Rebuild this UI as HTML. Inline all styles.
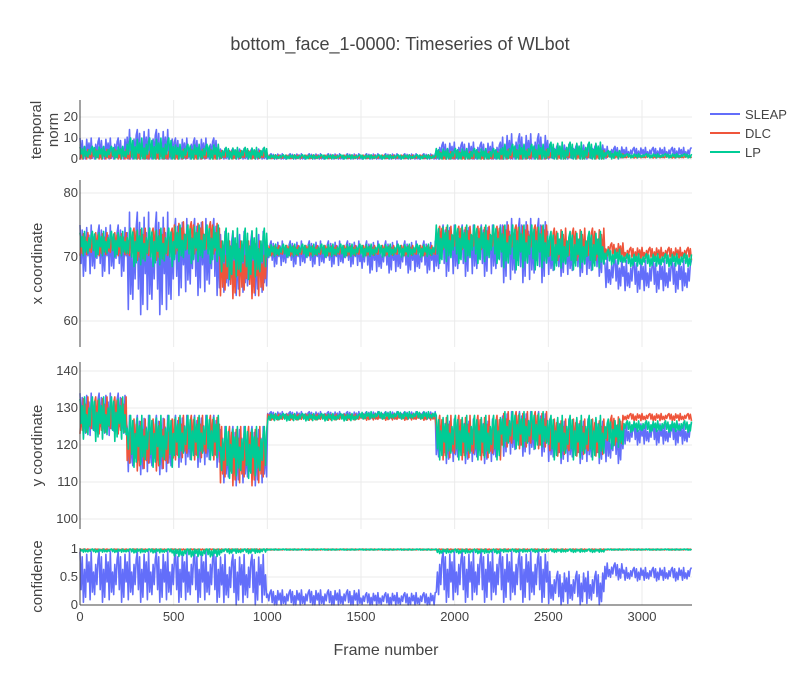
<!DOCTYPE html>
<html><head><meta charset="utf-8"><style>
body{margin:0;background:#fff;font-family:"Liberation Sans",sans-serif}
svg text{font-family:"Liberation Sans",sans-serif;fill:#444}
</style></head><body>
<svg id="chart" width="800" height="687" xmlns="http://www.w3.org/2000/svg">
<text x="400" y="50" text-anchor="middle" font-size="18">bottom_face_1-0000: Timeseries of WLbot</text>
<g id="grid"></g><g id="marks"></g><g id="axes"></g>
<text x="386" y="655" text-anchor="middle" font-size="16">Frame number</text>
<g>
<g><line x1="710" y1="114" x2="740" y2="114" stroke="#636efa" stroke-width="2"/><text x="745" y="119" font-size="13">SLEAP</text></g>
<g><line x1="710" y1="133" x2="740" y2="133" stroke="#EF553B" stroke-width="2"/><text x="745" y="138" font-size="13">DLC</text></g>
<g><line x1="710" y1="152" x2="740" y2="152" stroke="#00cc96" stroke-width="2"/><text x="745" y="157" font-size="13">LP</text></g>
</g>
</svg>
<script>
// segment start frames (each value holds until the next start)
const binFrames=[0,250,500,750,1000,1250,1500,1900,2000,2250,2500,2800,2900,3270];
const xTicks=[0,500,1000,1500,2000,2500,3000];
const seriesNames=['SLEAP','DLC','LP'];
// temporal norm
const normSleapC=[4,5,4,2,1,1,1,3,3,4,3,3,3,3];
const normSleapA=[6,9,6,3,1.5,1.5,1.5,5,5,8,4,3,2.5,2.5];
const normDlcC=[2,2,2,2,1,1,1,1.5,1.5,2,2,1.5,1,1];
const normDlcA=[2.5,3,2.5,2,0.8,0.8,0.8,2,2,2.5,2,1,0.5,0.5];
const normLpC=[3,4,3,2.5,1,1,1,2,2,3,3,2,1.5,1.5];
const normLpA=[3,6,4,3,1,1,1,3,3,4,5,2,1,1];
// x coordinate
const xSleapC=[71,69,70,69,70.5,70.5,70,71,71,71,70,67.5,67,67];
const xSleapA=[4,8,6,5,2,2,2.5,4,4,5,3,2.5,2.5,2.5];
const xDlcC=[72,72,73,68,71,71,71,73,73,73,72,71,70.5,70.5];
const xDlcA=[1.8,2.5,2.5,4.5,0.8,0.8,0.8,1.8,1.8,2,2.5,1.2,1,1];
const xLpC=[72,71.5,72,70.5,71,71,71,72,72,71.5,71,70,69.5,69.5];
const xLpA=[2,3,3,4,1,1,1,3,3,3.5,3,1.2,1,1];
// y coordinate
const ySleapC=[128,120,121,117,128,128,128,121,121,123,121,120,123,123];
const ySleapA=[6,8,7,8,1,1,1,6,6,6,6,5,3,3];
const yDlcC=[128,120,122,117,127.5,127.5,127.5,122,122,124,122,124,127.5,127.5];
const yDlcA=[5,7,6,8,0.8,0.8,0.8,6,6,5,5,4,1,1];
const yLpC=[127,121,122,118,127.5,127.5,128,122,122,124,122,123,125,125];
const yLpA=[6,7,6,7,1,1,1,6,6,5,6,4,1.5,1.5];
// confidence
const cSleapC=[0.5,0.5,0.5,0.45,0.12,0.12,0.1,0.5,0.5,0.5,0.3,0.6,0.55,0.55];
const cSleapA=[0.45,0.45,0.45,0.45,0.15,0.15,0.12,0.45,0.45,0.45,0.3,0.15,0.12,0.12];
const cDlcC=[0.99,0.99,0.99,0.99,0.99,0.99,0.99,0.99,0.99,0.99,0.99,0.99,0.99,0.99];
const cDlcA=[0.01,0.01,0.01,0.01,0.01,0.01,0.01,0.01,0.01,0.01,0.01,0.01,0.01,0.01];
const cLpC=[0.97,0.97,0.94,0.97,0.99,0.99,0.99,0.96,0.96,0.97,0.97,0.99,0.99,0.99];
const cLpA=[0.03,0.04,0.08,0.05,0.01,0.01,0.01,0.04,0.04,0.03,0.03,0.01,0.01,0.01];

const NS='http://www.w3.org/2000/svg';
const X0=80,X1=692,FMAX=3267;
const xs=f=>X0+f*(642-80)/3000;
const colors=['#636efa','#EF553B','#00cc96'];
const panels=[
 {name:'temporal-norm',top:100,bot:160,v0:0,p0:159,v1:20,p1:117,ticks:[0,10,20],title:['temporal','norm'],
  s:[[normSleapC,normSleapA],[normDlcC,normDlcA],[normLpC,normLpA]],min:0,max:28},
 {name:'x-coordinate',top:180,bot:347,v0:60,p0:321,v1:80,p1:193,ticks:[60,70,80],title:['x coordinate'],
  s:[[xSleapC,xSleapA],[xDlcC,xDlcA],[xLpC,xLpA]],min:56,max:82},
 {name:'y-coordinate',top:362,bot:529,v0:100,p0:519,v1:140,p1:371,ticks:[100,110,120,130,140],title:['y coordinate'],
  s:[[ySleapC,ySleapA],[yDlcC,yDlcA],[yLpC,yLpA]],min:98,max:142},
 {name:'confidence',top:548,bot:605,v0:0,p0:605,v1:1,p1:549,ticks:[0,0.5,1],title:['confidence'],
  s:[[cSleapC,cSleapA],[cDlcC,cDlcA],[cLpC,cLpA]],min:0,max:1}
];
const grid=document.getElementById('grid'),marks=document.getElementById('marks'),axes=document.getElementById('axes');
function el(t,a,p){const e=document.createElementNS(NS,t);for(const k in a)e.setAttribute(k,a[k]);p.appendChild(e);return e;}
const pat=[1,-0.5,0.8,-1,0.3,-0.8,0.9,-0.2,0.6,-0.9,1,-0.6,0.2,-0.7,0.5,-0.3,0.7];
function seg(arr,f){let i=0;while(i<binFrames.length-1&&f>=binFrames[i+1])i++;return arr[i];}
panels.forEach(p=>{
 const ys=v=>p.p0+(v-p.v0)*(p.p1-p.p0)/(p.v1-p.v0);
 xTicks.forEach(t=>{const g=el('line',{x1:xs(t),x2:xs(t),y1:p.top,y2:p.bot,stroke:'#ebebeb'},grid);
  
  });
 p.ticks.forEach(t=>{const g=el('line',{x1:X0,x2:X1,y1:ys(t),y2:ys(t),stroke:'#ebebeb'},grid);
  
  
  const tx=el('text',{x:X0-2,y:ys(t)+4,'text-anchor':'end','font-size':13},axes);tx.textContent=t;
  
  });
 const ax=el('line',{x1:X0,x2:X0,y1:p.top,y2:p.bot,stroke:'#444'},axes);
 
 
 const cy=(p.top+p.bot)/2;
 const tt=el('text',{transform:`translate(${p.title.length>1?43:42},${cy}) rotate(-90)`,'text-anchor':'middle','font-size':15},axes);
 
 
 p.title.forEach((l,i)=>{const ts=el('tspan',{x:0,dy:i?17:(p.title.length>1?-2:0)},tt);ts.textContent=l;});
 p.s.forEach((s,si)=>{
  let pts=[];let k=si*3;
  for(let f=0;f<=FMAX;f+=6){const c=seg(s[0],f),a=seg(s[1],f);
   let v=c+a*pat[k%pat.length];k++;v=Math.max(p.min,Math.min(p.max,v));
   pts.push(xs(f).toFixed(1)+','+ys(v).toFixed(1));}
  const pl=el('polyline',{points:pts.join(' '),fill:'none',stroke:colors[si],'stroke-width':1.6,'stroke-linejoin':'round'},marks);
  
  
 });
});
const xa=el('line',{x1:X0,x2:X1,y1:605,y2:605,stroke:'#444'},axes);


xTicks.forEach(t=>{const tx=el('text',{x:xs(t),y:621,'text-anchor':'middle','font-size':13},axes);tx.textContent=t;
 
 });
</script>
</body></html>
